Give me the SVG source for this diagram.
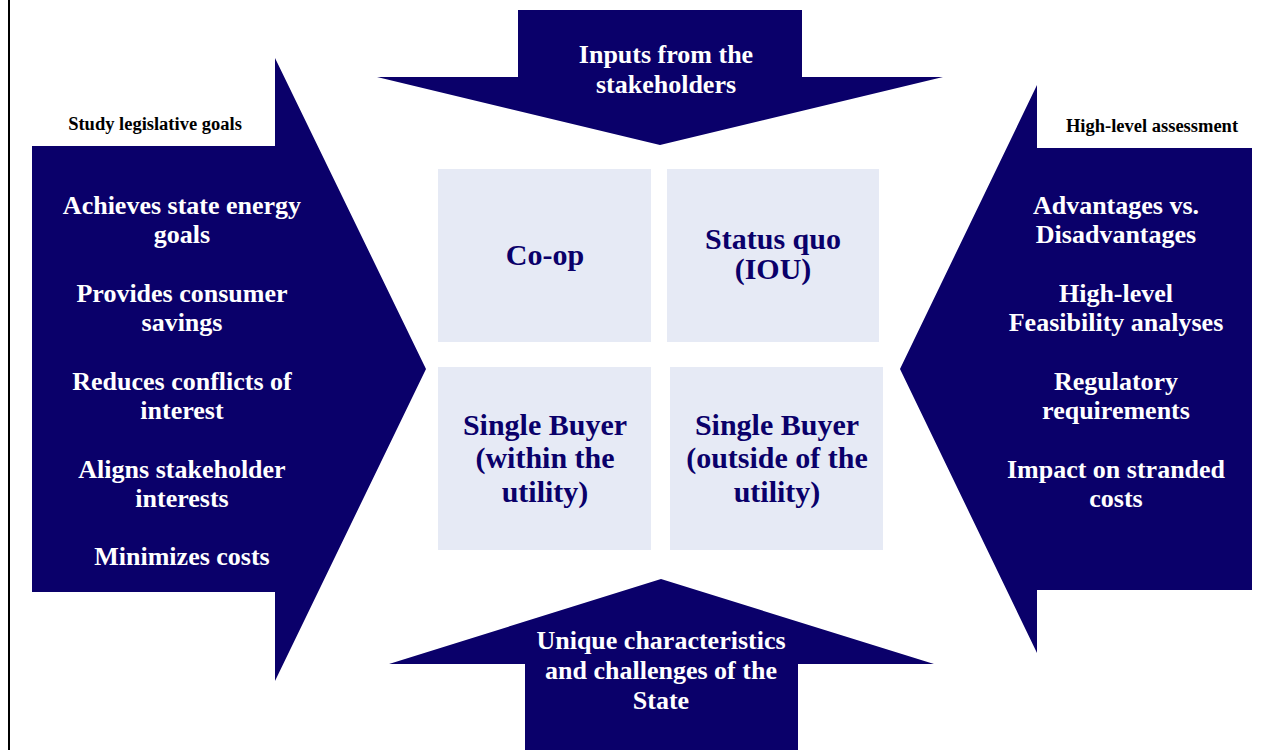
<svg xmlns="http://www.w3.org/2000/svg" width="1283" height="750" viewBox="0 0 1283 750">
<style>
.arrow{fill:#0A006A}
.box{fill:#E6EAF5}
.wt{font-family:"Liberation Serif",serif;font-weight:bold;font-size:26px;fill:#FFFFFF;text-anchor:middle}
.bt{font-family:"Liberation Serif",serif;font-weight:bold;font-size:30px;fill:#0A006A;text-anchor:middle}
.lb{font-family:"Liberation Serif",serif;font-weight:bold;font-size:18.5px;fill:#000000;text-anchor:middle}
</style>
<rect width="1283" height="750" fill="#FFFFFF"/>
<line x1="9" y1="0" x2="9" y2="750" stroke="#000" stroke-width="2"/>
<g id="connectors">
<g id="arrow-left">
<polygon class="arrow" points="32,146 275,146 275,58 426,369 275,681 275,592 32,592"/>
<text class="lb" x="155" y="130">Study legislative goals</text>
<text class="wt" x="182" y="214">Achieves state energy</text>
<text class="wt" x="182" y="243">goals</text>
<text class="wt" x="182" y="302">Provides consumer</text>
<text class="wt" x="182" y="331">savings</text>
<text class="wt" x="182" y="390">Reduces conflicts of</text>
<text class="wt" x="182" y="419">interest</text>
<text class="wt" x="182" y="478">Aligns stakeholder</text>
<text class="wt" x="182" y="507">interests</text>
<text class="wt" x="182" y="565">Minimizes costs</text>
</g>
<g id="arrow-right">
<polygon class="arrow" points="1252,148 1037,148 1037,85 900,369 1037,653 1037,590 1252,590"/>
<text class="lb" x="1152" y="132">High-level assessment</text>
<text class="wt" x="1116" y="214">Advantages vs.</text>
<text class="wt" x="1116" y="243">Disadvantages</text>
<text class="wt" x="1116" y="302">High-level</text>
<text class="wt" x="1116" y="331">Feasibility analyses</text>
<text class="wt" x="1116" y="390">Regulatory</text>
<text class="wt" x="1116" y="419">requirements</text>
<text class="wt" x="1116" y="478">Impact on stranded</text>
<text class="wt" x="1116" y="507">costs</text>
</g>
<g id="arrow-top">
<polygon class="arrow" points="518,10 802,10 802,77 943,77 660,145 377,77 518,77"/>
<text class="wt" x="666" y="63">Inputs from the</text>
<text class="wt" x="666" y="93">stakeholders</text>
</g>
<g id="arrow-bottom">
<polygon class="arrow" points="661,579 934,664 798,664 798,750 525,750 525,664 389,664"/>
<text class="wt" x="661" y="649">Unique characteristics</text>
<text class="wt" x="661" y="679">and challenges of the</text>
<text class="wt" x="661" y="709">State</text>
</g>
</g>
<g id="box-coop">
<rect class="box" x="438" y="169" width="213" height="173"/>
<text class="bt" x="545" y="265">Co-op</text>
</g>
<g id="box-statusquo">
<rect class="box" x="667" y="169" width="212" height="173"/>
<text class="bt" x="773" y="249">Status quo</text>
<text class="bt" x="773" y="279">(IOU)</text>
</g>
<g id="box-sb-within">
<rect class="box" x="438" y="367" width="213" height="183"/>
<text class="bt" x="545" y="435">Single Buyer</text>
<text class="bt" x="545" y="468">(within the</text>
<text class="bt" x="545" y="502">utility)</text>
</g>
<g id="box-sb-outside">
<rect class="box" x="670" y="367" width="213" height="183"/>
<text class="bt" x="777" y="435">Single Buyer</text>
<text class="bt" x="777" y="468">(outside of the</text>
<text class="bt" x="777" y="502">utility)</text>
</g>
</svg>
